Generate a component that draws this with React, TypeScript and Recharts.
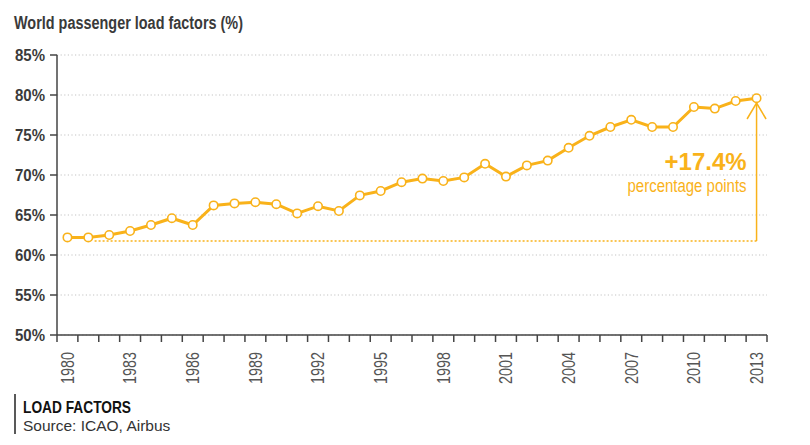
import React from 'react'
import { LineChart, Line, XAxis, YAxis, CartesianGrid, ReferenceLine } from 'recharts'

const years = [
  1980, 1981, 1982, 1983, 1984, 1985, 1986, 1987, 1988, 1989, 1990, 1991,
  1992, 1993, 1994, 1995, 1996, 1997, 1998, 1999, 2000, 2001, 2002, 2003,
  2004, 2005, 2006, 2007, 2008, 2009, 2010, 2011, 2012, 2013,
]
const loadFactor = [
  62.2, 62.2, 62.5, 63.0, 63.75, 64.6, 63.75, 66.2, 66.45, 66.6, 66.35, 65.2,
  66.1, 65.5, 67.45, 68.0, 69.1, 69.55, 69.25, 69.7, 71.4, 69.8, 71.2, 71.8,
  73.4, 74.9, 76.0, 76.9, 76.0, 76.0, 78.5, 78.3, 79.25, 79.6,
]
const yTicks = [50, 55, 60, 65, 70, 75, 80, 85]
const labelYears = [1980, 1983, 1986, 1989, 1992, 1995, 1998, 2001, 2004, 2007, 2010, 2013]
const baseLevel = 61.75
const arrowTop = 79.0
const gainLabel = '+17.4%'
const gainSub = 'percentage points'
const title = 'World passenger load factors (%)'
const footTitle = 'LOAD FACTORS'
const footSource = 'Source: ICAO, Airbus'

const data = years.map((y, i) => ({ year: y, value: loadFactor[i] }))
// tick marks sit between years, labels on the years
const xTicks = [years[0] - 0.5, ...years.flatMap((y) => [y, y + 0.5])]

const ORANGE = '#f9b21a'
const SANS = '"Liberation Sans", Arial, sans-serif'

// the original uses a condensed face, so squeeze Liberation Sans to the measured widths
const XTick = ({ x, y, payload }: any) => {
  const v = payload.value
  if (v % 1 !== 0) {
    return <line x1={x} x2={x} y1={y - 8} y2={y - 1} stroke="#444" strokeWidth={1.5} />
  }
  if (!labelYears.includes(v)) return null
  return (
    <text
      transform={`translate(${x},${y + 9}) rotate(-90)`}
      textAnchor="end"
      dy="0.36em"
      fontFamily={SANS}
      fontSize={17.5}
      fill="#555"
      textLength={32}
      lengthAdjust="spacingAndGlyphs"
    >
      {v}
    </text>
  )
}

const YTick = ({ x, y, payload }: any) => (
  <text
    x={x}
    y={y}
    dy="0.36em"
    textAnchor="end"
    fontFamily={SANS}
    fontSize={16.5}
    fontWeight="bold"
    fill="#3a3a3a"
    textLength={30}
    lengthAdjust="spacingAndGlyphs"
  >
    {`${payload.value}%`}
  </text>
)

const Arrow = ({ x1, y1, x2, y2 }: any) => {
  const x = x1
  const bottom = Math.max(y1, y2)
  const top = Math.min(y1, y2)
  const mid = (top + bottom) / 2
  return (
    <g>
      <line x1={x} x2={x} y1={bottom} y2={top} stroke={ORANGE} strokeWidth={1.5} />
      <polyline
        points={`${x - 9.5},${top + 16} ${x},${top} ${x + 9.5},${top + 16}`}
        fill="none"
        stroke={ORANGE}
        strokeWidth={1.5}
      />
      <text x={x - 10} y={mid - 2} textAnchor="end" fontFamily={SANS} fontWeight="bold" fontSize={24}
        fill={ORANGE} textLength={82} lengthAdjust="spacingAndGlyphs">
        {gainLabel}
      </text>
      <text x={x - 10} y={mid + 20} textAnchor="end" fontFamily={SANS} fontSize={17.5}
        fill={ORANGE} textLength={119} lengthAdjust="spacingAndGlyphs">
        {gainSub}
      </text>
    </g>
  )
}

export default function App() {
  return (
    <div style={{ position: 'absolute', left: 0, top: 0, width: 810, height: 445, background: '#fff' }}>
      <LineChart
        width={810}
        height={445}
        data={data}
        margin={{ top: 55, right: 43, bottom: 0, left: 0 }}
      >
        <CartesianGrid horizontal vertical={false} stroke="#c4c4c4" strokeWidth={1.2} strokeDasharray="1.2 2.4" />
        <XAxis
          dataKey="year"
          type="number"
          domain={[years[0] - 0.5, years[years.length - 1] + 0.5]}
          ticks={xTicks}
          interval={0}
          tickLine={false}
          axisLine={{ stroke: '#444', strokeWidth: 1.5 }}
          tick={<XTick />}
          height={110}
        />
        <YAxis
          domain={[50, 85]}
          ticks={yTicks}
          interval={0}
          width={57}
          tickSize={7}
          tickLine={{ stroke: '#444', strokeWidth: 1.5 }}
          axisLine={{ stroke: '#444', strokeWidth: 1.5 }}
          tick={<YTick />}
          tickMargin={5}
        />
        <ReferenceLine
          segment={[{ x: 1981.3, y: baseLevel }, { x: years[years.length - 1], y: baseLevel }]}
          stroke={ORANGE}
          strokeWidth={1.5}
          strokeDasharray="2 2"
        />
        <ReferenceLine
          segment={[{ x: years[years.length - 1], y: baseLevel }, { x: years[years.length - 1], y: arrowTop }]}
          shape={<Arrow />}
        />
        <Line
          dataKey="value"
          stroke={ORANGE}
          strokeWidth={3}
          dot={{ r: 4.2, fill: '#fff', stroke: ORANGE, strokeWidth: 1.6 }}
          isAnimationActive={false}
        />
      </LineChart>

      <svg width={810} height={445} style={{ position: 'absolute', left: 0, top: 0, pointerEvents: 'none' }}>
        <text x={14} y={29} fontFamily={SANS} fontSize={17.5} fontWeight="bold" fill="#3a3a3a"
          textLength={229} lengthAdjust="spacingAndGlyphs">
          {title}
        </text>
        <line x1={15} x2={15} y1={394} y2={434} stroke="#222" strokeWidth={1.5} />
        <text x={23} y={413} fontFamily={SANS} fontSize={16.5} fontWeight="bold" fill="#111"
          textLength={108} lengthAdjust="spacingAndGlyphs">
          {footTitle}
        </text>
        <text x={23} y={431} fontFamily={SANS} fontSize={15.5} fill="#333">
          {footSource}
        </text>
      </svg>
    </div>
  )
}
